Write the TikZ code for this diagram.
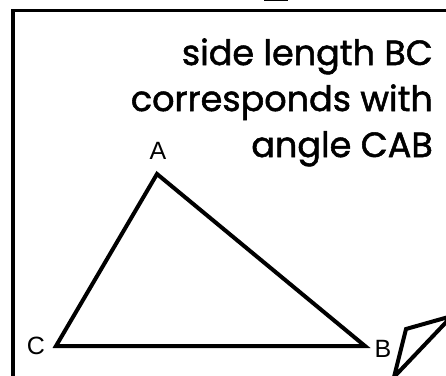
\documentclass[tikz,border=0pt]{standalone}
\usepackage{fontspec}
\setmainfont{Poppins}
\newfontfamily\notefont{Poppins}[FakeBold=1.5]
\newfontfamily\labfont{Liberation Sans}
\begin{document}
\begin{tikzpicture}[x=1pt,y=-1pt,
  edge/.style={line width=4pt,line join=miter,line cap=butt},
  frame/.style={line width=3.6pt},
  vlab/.style={inner sep=0pt,font={\fontsize{25}{25}\selectfont\labfont}},
  note/.style={inner sep=0pt,anchor=base east,font={\fontsize{35}{35}\selectfont\notefont}}]
\useasboundingbox (0,0) rectangle (446,375);
\begin{scope}
\clip (0,0) rectangle (446,375);
% frame
\draw[frame] (13,400) -- (13,10.5) -- (460,10.5);
\draw[line width=1.5pt] (264,0.5) -- (288,0.5);
% triangle
\coordinate (A) at (157,174);
\coordinate (B) at (365,346);
\coordinate (C) at (56,346);
\draw[edge] (A) -- (B) -- (C) -- cycle;
% partial shape at right
\coordinate (P1) at (406,329);
\coordinate (P2) at (452,316);
\coordinate (P3) at (394,377);
\draw[edge] (P1) -- (P2) -- (P3) -- cycle;
\end{scope}
\node[vlab] (lA) at (158,151) {A};
\node[vlab] (lB) at (383,349) {B};
\node[vlab] (lC) at (36,346) {C};
\node[note] (t1) at (433,65) {side length BC};
\node[note] (t2) at (433,111) {corresponds with};
\node[note] (t3) at (433,157) {angle CAB};
\end{tikzpicture}
\end{document}
